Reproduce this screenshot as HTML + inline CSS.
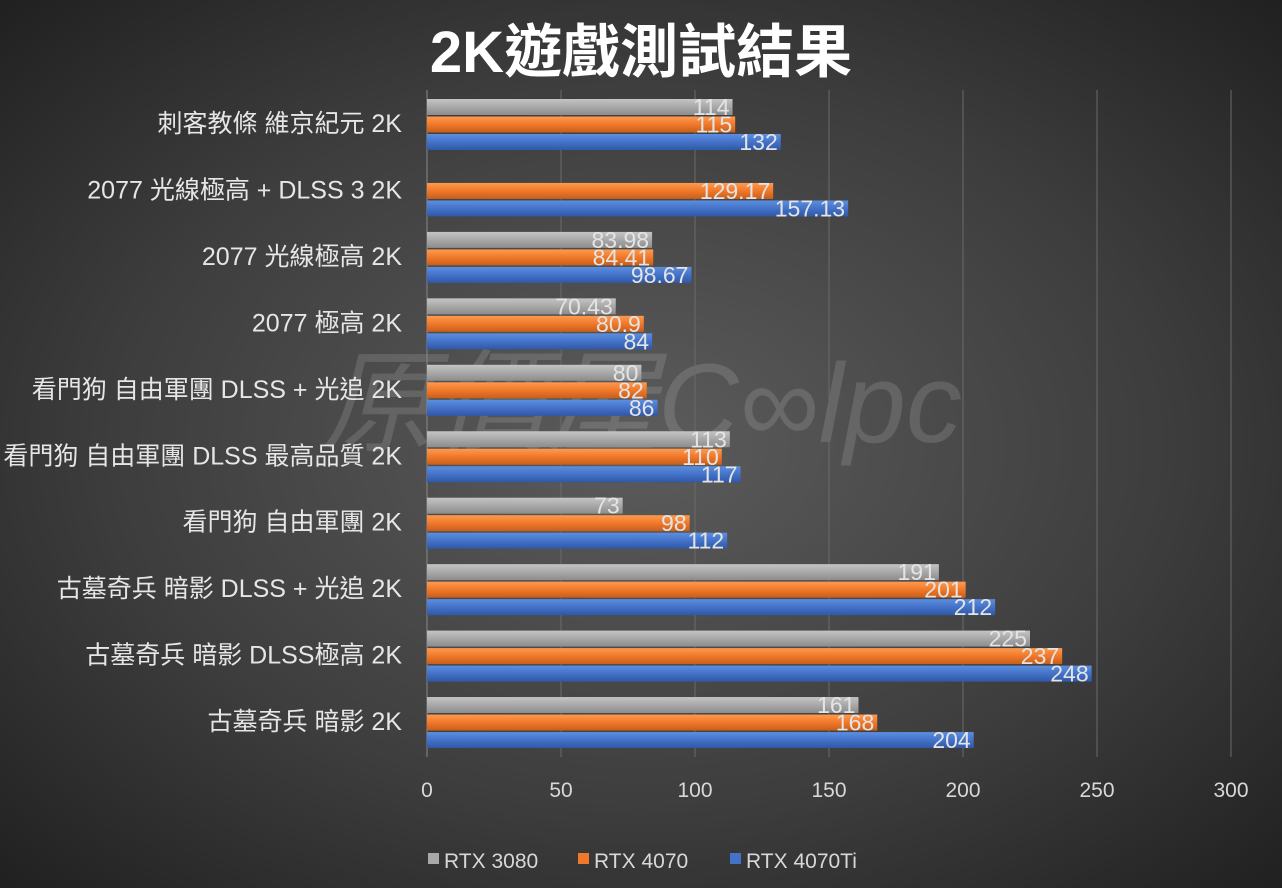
<!DOCTYPE html>
<html><head><meta charset="utf-8"><style>
html,body{margin:0;padding:0;}
body{width:1282px;height:888px;overflow:hidden;background:radial-gradient(ellipse 75% 75% at 50% 50%,#5c5c5c 0%,#3d3d3d 55%,#1c1c1c 100%);}
svg{display:block}
text{font-family:"Liberation Sans","Noto Sans CJK TC",sans-serif;}
</style></head><body>
<svg width="1282" height="888" xmlns="http://www.w3.org/2000/svg">
<defs>
<linearGradient id="g" x1="0" y1="0" x2="0" y2="1"><stop offset="0" stop-color="#c4c4c4"/><stop offset="0.5" stop-color="#a8a8a8"/><stop offset="1" stop-color="#8c8c8c"/></linearGradient>
<linearGradient id="o" x1="0" y1="0" x2="0" y2="1"><stop offset="0" stop-color="#ff9a4e"/><stop offset="0.5" stop-color="#f0782a"/><stop offset="1" stop-color="#c85e1a"/></linearGradient>
<linearGradient id="b" x1="0" y1="0" x2="0" y2="1"><stop offset="0" stop-color="#5b8ee0"/><stop offset="0.5" stop-color="#4472c8"/><stop offset="1" stop-color="#2f58a8"/></linearGradient>
</defs>
<text x="641" y="72" text-anchor="middle" font-size="58" font-weight="bold" fill="#ffffff">2K遊戲測試結果</text>
<text x="642" y="442" text-anchor="middle" font-size="112" font-style="italic" fill="#ffffff" fill-opacity="0.13" font-family="Liberation Serif,Noto Serif CJK SC,serif">原價屋C∞lpc</text>
<g stroke="#6a6a6a" stroke-width="1">
<line x1="561" y1="90" x2="561" y2="757"/><line x1="695" y1="90" x2="695" y2="757"/><line x1="829" y1="90" x2="829" y2="757"/><line x1="963" y1="90" x2="963" y2="757"/><line x1="1097" y1="90" x2="1097" y2="757"/><line x1="1231" y1="90" x2="1231" y2="757"/>
</g>
<line x1="427" y1="90" x2="427" y2="757" stroke="#888" stroke-width="1"/>
<g id="bars"></g>
<g font-size="21" fill="#d8d8d8" text-anchor="middle">
<text x="427" y="797">0</text><text x="561" y="797">50</text><text x="695" y="797">100</text><text x="829" y="797">150</text><text x="963" y="797">200</text><text x="1097" y="797">250</text><text x="1231" y="797">300</text>
</g>
<g font-size="21" fill="#d8d8d8">
<rect x="428" y="853" width="11" height="11" fill="#a8a8a8"/><text x="444" y="868">RTX 3080</text>
<rect x="578" y="853" width="11" height="11" fill="#f0782a"/><text x="594" y="868">RTX 4070</text>
<rect x="730" y="853" width="11" height="11" fill="#4472c8"/><text x="746" y="868">RTX 4070Ti</text>
</g>
</svg>
<script>
var data=[["刺客教條 維京紀元 2K",114,115,132],["2077 光線極高 + DLSS 3 2K",null,129.17,157.13],["2077 光線極高 2K",83.98,84.41,98.67],["2077 極高 2K",70.43,80.9,84],["看門狗 自由軍團 DLSS + 光追 2K",80,82,86],["看門狗 自由軍團 DLSS 最高品質 2K",113,110,117],["看門狗 自由軍團 2K",73,98,112],["古墓奇兵 暗影 DLSS + 光追 2K",191,201,212],["古墓奇兵 暗影 DLSS極高 2K",225,237,248],["古墓奇兵 暗影 2K",161,168,204]];
var g=document.getElementById('bars'),s='',fills=['url(#g)','url(#o)','url(#b)'];
data.forEach(function(d,i){var top=99+i*66.45;
s+='<text x="402" y="'+(top+33)+'" text-anchor="end" font-size="25" fill="#e6e6e6">'+d[0]+'</text>';
for(var k=0;k<3;k++){var v=d[k+1];if(v==null)continue;var y=top+k*17.5,w=v*2.68;
s+='<rect x="427" y="'+y+'" width="'+w+'" height="16" fill="'+fills[k]+'"/>';
s+='<text x="'+(427+w-3)+'" y="'+(y+16)+'" text-anchor="end" font-size="23" fill="#e4e4e4">'+v+'</text>';}});
g.innerHTML=s;
</script>
</body></html>
